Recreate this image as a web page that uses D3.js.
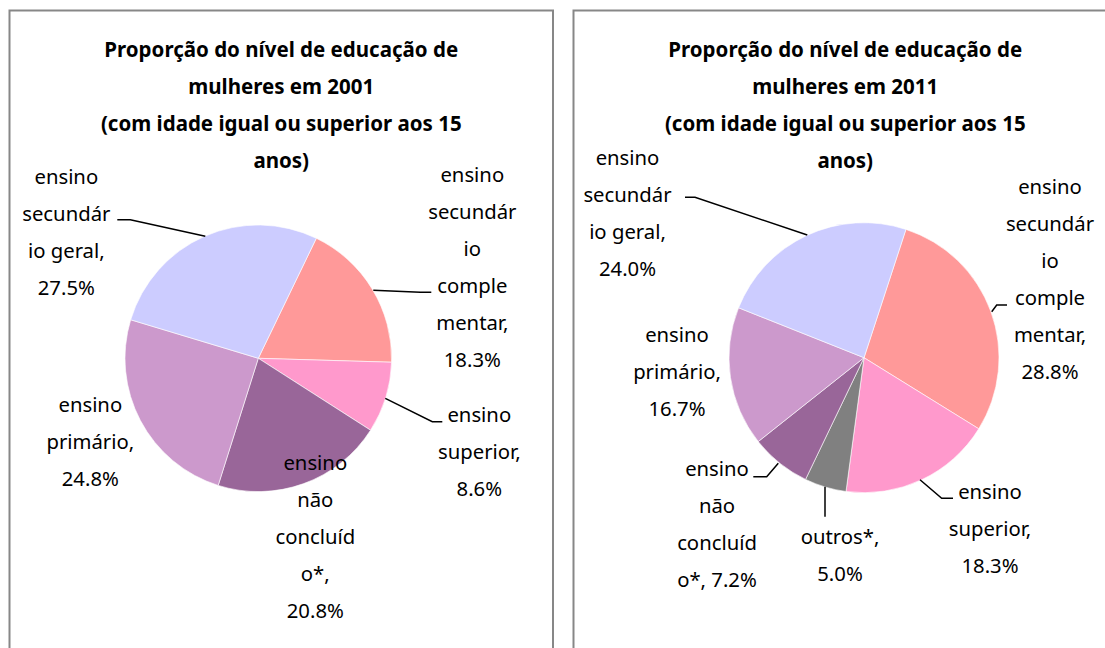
<!DOCTYPE html>
<html><head><meta charset="utf-8">
<script src="https://cdn.jsdelivr.net/npm/d3@7"></script>
<style>
html,body{margin:0;padding:0;background:#fff;}
svg{display:block;}
text{font-family:"Noto Sans","Open Sans",sans-serif;fill:#000;}
</style></head>
<body>
<svg id="c" width="1105" height="648"></svg>
<script>
// ---- data ----
const categories2001 = ["ensino secundário complementar","ensino superior","ensino não concluído*","ensino primário","ensino secundário geral"];
const values2001 = [18.3, 8.6, 20.8, 24.8, 27.5];
const labels2001 = [
  ["ensino","secundár","io","comple","mentar,","18.3%"],
  ["ensino","superior,","8.6%"],
  ["ensino","não","concluíd","o*,","20.8%"],
  ["ensino","primário,","24.8%"],
  ["ensino","secundár","io geral,","27.5%"]
];
const categories2011 = ["ensino secundário complementar","ensino superior","outros*","ensino não concluído*","ensino primário","ensino secundário geral"];
const values2011 = [28.8, 18.3, 5.0, 7.2, 16.7, 24.0];
const labels2011 = [
  ["ensino","secundár","io","comple","mentar,","28.8%"],
  ["ensino","superior,","18.3%"],
  ["outros*,","5.0%"],
  ["ensino","não","concluíd","o*, 7.2%"],
  ["ensino","primário,","16.7%"],
  ["ensino","secundár","io geral,","24.0%"]
];
const titles = [
  ["Proporção do nível de educação de","mulheres em 2001","(com idade igual ou superior aos 15","anos)"],
  ["Proporção do nível de educação de","mulheres em 2011","(com idade igual ou superior aos 15","anos)"]
];

// ---- styles / layout ----
const colorMap = {
  "ensino secundário complementar":"#FF9999",
  "ensino superior":"#FF99CC",
  "outros*":"#808080",
  "ensino não concluído*":"#996699",
  "ensino primário":"#CC99CC",
  "ensino secundário geral":"#CCCCFF"
};
const lineH = 37;
const charts = [
  {panel:[9.5,10.5,543.5,660], cx:258.3, cy:358.3, r:133.3, start:25.8,
   cats:categories2001, vals:values2001, labels:labels2001,
   labelPos:[[214,-183],[221,57],[57,105],[-168,47],[-192,-181]],
   leaders:[[[115,-68],[162,-66],[173,-66]],[[127,40],[174,63.4],[184,63.4]],null,null,[[-53,-122],[-128,-138.5],[-141,-138.5]]]},
  {panel:[573.5,10.5,543.5,660], cx:864, cy:357.7, r:135, start:18.1,
   cats:categories2011, vals:values2011, labels:labels2011,
   labelPos:[[186,-171],[126,134],[-24,179],[-147,111],[-187,-23],[-236.5,-200]],
   leaders:[[[127.7,-46],[132.7,-52.7],[143,-52.7]],[[56,122],[77.7,140.6],[89,140.6]],[[-39,129],[-39,159]],[[-85.7,105.6],[-97.3,119],[-110.7,119]],null,[[-56.7,-122.7],[-169,-160.4],[-179,-160.4]]]}
];

const svg = d3.select("#c");
charts.forEach((ch,ci)=>{
  const g = svg.append("g");
  g.append("rect").attr("x",ch.panel[0]).attr("y",ch.panel[1]).attr("width",ch.panel[2]).attr("height",ch.panel[3])
    .attr("fill","#fff").attr("stroke","#878787").attr("stroke-width",2);
  const tcx = ch.panel[0] + ch.panel[2]/2;
  g.selectAll("text.t").data(titles[ci]).join("text").attr("class","t")
    .attr("x",tcx).attr("y",(d,i)=>50+i*lineH).attr("dy","0.35em")
    .attr("text-anchor","middle").attr("font-weight","bold").attr("font-size",20.5).text(d=>d);
  const pie = d3.pie().sort(null).value(d=>d.v)
    .startAngle(ch.start*Math.PI/180).endAngle(ch.start*Math.PI/180+2*Math.PI);
  const data = ch.cats.map((c,i)=>({c, v:ch.vals[i], i}));
  const arc = d3.arc().innerRadius(0).outerRadius(ch.r);
  const pg = g.append("g").attr("transform",`translate(${ch.cx},${ch.cy})`);
  pg.selectAll("path").data(pie(data)).join("path")
    .attr("d",arc).attr("fill",d=>colorMap[d.data.c]).attr("stroke","#fff").attr("stroke-width",0.6);
  const line = d3.line();
  ch.leaders.forEach(l=>{ if(l) pg.append("path").attr("d",line(l)).attr("fill","none").attr("stroke","#000").attr("stroke-width",1.5); });
  ch.labels.forEach((lines,i)=>{
    const [lx,ly] = ch.labelPos[i];
    pg.append("g").selectAll("text").data(lines).join("text")
      .attr("x",lx).attr("y",(d,j)=>ly+j*lineH).attr("dy","0.35em")
      .attr("text-anchor","middle").attr("font-size",20.3).text(d=>d);
  });
});
</script>
</body></html>
